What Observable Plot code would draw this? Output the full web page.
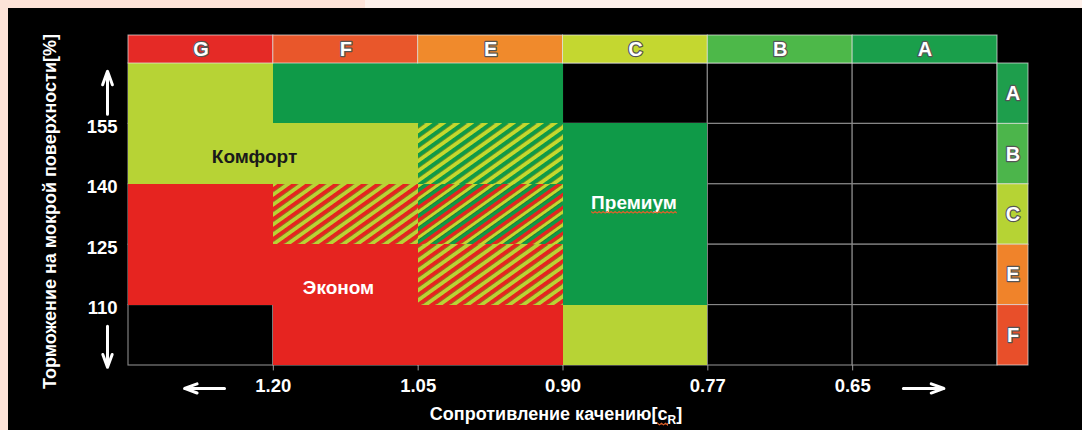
<!DOCTYPE html>
<html><head><meta charset="utf-8">
<script src="https://cdn.jsdelivr.net/npm/d3@7"></script>
<script src="https://cdn.jsdelivr.net/npm/@observablehq/plot@0.6"></script>
<style>
html,body{margin:0;padding:0;}
body{width:1082px;height:430px;overflow:hidden;position:relative;background:linear-gradient(to right,#fde3d8 0,#fde3d8 365px,#fdf0ea 365px,#fdf0ea 100%);}
#chart{position:absolute;left:8px;top:8px;width:1074px;height:422px;background:#000;}
#chart svg{display:block;}
</style></head><body><div id="chart"></div>
<script>
// ---- data ----
const rollingClasses = ["G", "F", "E", "C", "B", "A"];
const wetClasses = ["A", "B", "C", "E", "F"];
const rollingTicks = ["1.20", "1.05", "0.90", "0.77", "0.65"];
const wetTicks = ["155", "140", "125", "110"];
// segment of each cell: rows = wet grip class (A..F), columns = rolling class (G..A)
const segmentGrid = [
  ["comfort", "premium", "premium", null,      null, null],
  ["comfort", "comfort", "gy",      "premium", null, null],
  ["econom",  "ry",      "rgy",     "premium", null, null],
  ["econom",  "econom",  "ry",      "premium", null, null],
  [null,      "econom",  "econom",  "comfort", null, null]
];
const segmentNames = ["Комфорт", "Эконом", "Премиум"];
const segmentLabelCols = [0.87, 1.45, 3.49];
const segmentLabelRows = [1.54, 3.71, 2.30];
const xTitle = "Сопротивление качению[cR]";
const yTitle = "Торможение на мокрой поверхности[%]";
const arrowDirs = [
  {x1: -0.145, y1: 0.84, x2: -0.145, y2: 0.13},
  {x1: -0.145, y1: 4.35, x2: -0.145, y2: 5.03},
  {x1: 0.663, y1: 5.38, x2: 0.387, y2: 5.38},
  {x1: 5.35, y1: 5.38, x2: 5.63, y2: 5.38}
];

// ---- styles ----
const rollingColors = ["#e52a26", "#e9572b", "#f08a2c", "#c4d730", "#4db849", "#1a9f4b"];
const wetColors = ["#1e9e4c", "#4cb54b", "#b6d334", "#f0832a", "#e84f2a"];
const segmentFill = {
  comfort: "#b7d335", premium: "#0f9a48", econom: "#e62420",
  gy: "url(#hatch-gy)", ry: "url(#hatch-ry)", rgy: "url(#hatch-rgy)"
};
const labelColors = ["#1a1a1a", "#ffffff", "#ffffff"];
const headH = 0.4636, sideW = 0.214;
const font = "'Liberation Sans', Arial, sans-serif";

const cells = segmentGrid.flatMap((r, i) => r.map((seg, j) => ({row: i, col: j, seg})));

const plot = Plot.plot({
  width: 1074, height: 422,
  marginLeft: 120, marginRight: 85, marginTop: 55, marginBottom: 65,
  style: {background: "#000", fontFamily: font},
  x: {type: "linear", domain: [0, 6], axis: null},
  y: {type: "linear", domain: [0, 5], reverse: true, axis: null},
  color: {type: "identity"},
  marks: [
    Plot.rect(cells, {x1: "col", x2: d => d.col + 1, y1: "row", y2: d => d.row + 1,
      fill: "#000", stroke: "#8a8a8a", strokeWidth: 1.1}),
    Plot.rect(cells.filter(d => d.seg), {x1: "col", x2: d => d.col + 1, y1: "row", y2: d => d.row + 1,
      fill: d => segmentFill[d.seg], shapeRendering: "crispEdges"}),
    // header: rolling resistance classes
    Plot.rect(rollingClasses, {x1: (d, i) => i, x2: (d, i) => i + 1, y1: -headH, y2: 0,
      fill: (d, i) => rollingColors[i], stroke: "#e8e8e8", strokeOpacity: 0.7, strokeWidth: 1}),
    Plot.text(rollingClasses, {x: (d, i) => i + 0.5, y: -headH / 2, text: d => d,
      fill: "#fff", stroke: "#555", strokeWidth: 2.4, paintOrder: "stroke", fontSize: 20, fontWeight: "bold"}),
    // side: wet grip classes
    Plot.rect(wetClasses, {x1: 6, x2: 6 + sideW, y1: (d, i) => i, y2: (d, i) => i + 1,
      fill: (d, i) => wetColors[i], stroke: "#e8e8e8", strokeOpacity: 0.7, strokeWidth: 1}),
    Plot.text(wetClasses, {x: 6 + sideW / 2, y: (d, i) => i + 0.5, text: d => d,
      fill: "#fff", stroke: "#555", strokeWidth: 2.4, paintOrder: "stroke", fontSize: 20, fontWeight: "bold"}),
    // segment labels
    Plot.text(segmentNames, {x: (d, i) => segmentLabelCols[i], y: (d, i) => segmentLabelRows[i], text: d => d,
      fill: (d, i) => labelColors[i], fontSize: 19, fontWeight: "bold"}),
    // ticks
    Plot.ruleX(rollingTicks, {x: (d, i) => i + 1, y1: 5, y2: 5.09, stroke: "#999"}),
    Plot.text(rollingTicks, {x: (d, i) => i + 1, y: 5, dy: 21, text: d => d,
      fill: "#fff", fontSize: 18.5, fontWeight: "bold"}),
    Plot.text(wetTicks, {x: 0, y: (d, i) => i + 1, dx: -11, dy: 3, text: d => d, textAnchor: "end",
      fill: "#fff", fontSize: 18.5, fontWeight: "bold"}),
    Plot.arrow(arrowDirs, {x1: "x1", y1: "y1", x2: "x2", y2: "y2", stroke: "#fff", strokeWidth: 3,
      headLength: 12, headAngle: 40}),
    Plot.text([yTitle], {frameAnchor: "left", textAnchor: "middle", lineAnchor: "middle", dx: -78, dy: -3, rotate: -90, text: d => d,
      fill: "#fff", fontSize: 18, fontWeight: "bold"}),
    Plot.text([xTitle], {frameAnchor: "bottom", textAnchor: "middle", lineAnchor: "middle", dx: -7, dy: 49, text: d => d,
      fill: "#fff", fontSize: 18, fontWeight: "bold"})
  ]
});
document.getElementById("chart").appendChild(plot);

// hatch patterns
const svg = d3.select(plot);
const defs = svg.insert("defs", ":first-child");
function hatch(id, colors, w) {
  const p = colors.length * w;
  const pat = defs.append("pattern").attr("id", id).attr("patternUnits", "userSpaceOnUse")
    .attr("width", p).attr("height", p).attr("patternTransform", "rotate(54.5)");
  colors.forEach((c, k) => pat.append("rect").attr("x", k * w).attr("y", 0).attr("width", w).attr("height", p).attr("fill", c));
}
hatch("hatch-gy", ["#0f9a48", "#c4d82e"], 4.05);
hatch("hatch-ry", ["#e62420", "#b9d335"], 4.05);
hatch("hatch-rgy", ["#e62420", "#c4d82e", "#0f9a48"], 3.5);

// wavy spell-check style underline below a run of characters
function squiggle(textEl, from, to) {
  const a = textEl.getExtentOfChar(from), b = textEl.getExtentOfChar(to);
  const x0 = a.x, x1 = b.x + b.width, y = a.y + a.height - 1;
  let d = `M${x0},${y}`;
  for (let x = x0, k = 0; x < x1; x += 2, k++) d += `L${Math.min(x + 2, x1)},${y + (k % 2 ? 0 : 1.6)}`;
  d3.select(textEl.parentNode).append("path").attr("d", d).attr("fill", "none")
    .attr("stroke", "#e0622a").attr("stroke-width", 1.1)
    .attr("transform", d3.select(textEl).attr("transform"));
}
svg.selectAll("text").each(function() {
  const t = d3.select(this);
  if (this.textContent === xTitle) {
    t.text(null);
    t.append("tspan").text("Сопротивление качению[");
    t.append("tspan").text("c");
    t.append("tspan").attr("dy", 4).attr("font-size", 12).text("R");
    t.append("tspan").attr("dy", -4).text("]");
    squiggle(this, 22, 22);
  } else if (this.textContent === "Премиум") {
    squiggle(this, 0, 6);
  }
});
</script></body></html>
